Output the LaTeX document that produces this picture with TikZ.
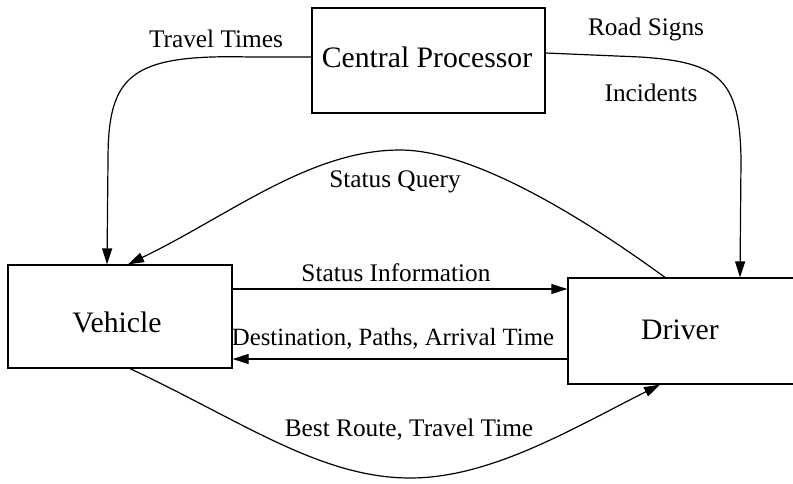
\documentclass[tikz,border=0pt]{standalone}
\usepackage{fontspec}
\setmainfont{Liberation Serif}
\usetikzlibrary{arrows.meta}
\begin{document}
\begin{tikzpicture}[x=1pt,y=-1pt,
  box/.style={draw,line width=1.2pt,inner sep=0pt},
  boxtext/.style={inner sep=0pt,font=\fontsize{29.7}{34}\selectfont},
  lab/.style={inner sep=0pt,font=\fontsize{25.3}{30}\selectfont},
  conn/.style={line width=1.2pt,-{Triangle[length=16pt,width=10pt]}}]
\useasboundingbox (0,0) rectangle (793,483);
\clip (0,0) rectangle (793,483);
\node[box,minimum width=233pt,minimum height=105pt] (cp) at (428.5,60.5) {};
\node[boxtext] (cpt) at (427,57) {Central Processor};
\node[box,minimum width=224pt,minimum height=103pt] (veh) at (120,316.5) {};
\node[boxtext] (veht) at (117,322) {Vehicle};
\node[box,minimum width=232pt,minimum height=106pt] (drv) at (684,331) {};
\node[boxtext] (drvt) at (680,330) {Driver};

\node[lab] (l1) at (216,39) {Travel Times};
\node[lab] (l2) at (646,29) {Road Signs};
\node[lab] (l3) at (651,93) {Incidents};
\node[lab] (l4) at (395,182) {Status Query};
\node[lab] (l5) at (396,273) {Status Information};
\node[lab,font=\fontsize{24.8}{30}\selectfont] (l6) at (393,339) {Destination, Paths, Arrival Time};
\node[lab] (l7) at (409,430) {Best Route, Travel Time};

\coordinate (a1) at ([yshift=3.5pt]cp.west);
\coordinate (a2) at ([xshift=-13pt]veh.north);
\draw[conn] (a1) -- (250,57) .. controls (130,54) and (108,75) .. (108,160) -- (a2);

\coordinate (b1) at ([yshift=7.5pt]cp.east);
\coordinate (b2) at ([xshift=56pt]drv.north);
\draw[conn] (b1) -- (640,57) .. controls (720,62) and (740,80) .. (741,160) -- (b2);

\coordinate (c1) at ([xshift=-19pt]drv.north);
\coordinate (c2) at ([xshift=8pt]veh.north);
\draw[conn] (c1) .. controls (600,230) and (480,150) .. (400,150)
  .. controls (310,150) and (230,215) .. (c2);

\coordinate (d1) at ([yshift=27.5pt]veh.east);
\draw[conn] (d1) -- (d1 -| drv.west);

\coordinate (e1) at ([yshift=-42.5pt]veh.east);
\draw[conn] (e1 -| drv.west) -- (e1);

\coordinate (f1) at ([xshift=10pt]veh.south);
\coordinate (f2) at ([xshift=-24pt]drv.south);
\draw[conn] (f1) .. controls (240,420) and (320,478) .. (410,478)
  .. controls (490,478) and (570,430) .. (f2);
\end{tikzpicture}
\end{document}
